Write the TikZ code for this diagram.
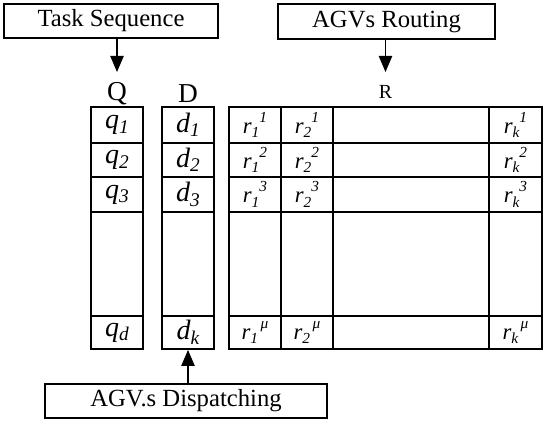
\documentclass[tikz,border=0pt]{standalone}
\usepackage{fontspec}
\setmainfont{Liberation Serif}
\usetikzlibrary{arrows.meta}
\newcommand{\qv}[2]{{\fontsize{21}{21}\selectfont\itshape #1\raisebox{-0.35ex}{\fontsize{14.5}{14.5}\selectfont #2}}}
\newcommand{\rv}[2]{{\fontsize{17}{17}\selectfont\itshape r\raisebox{-0.45ex}{\fontsize{11.5}{11.5}\selectfont #1}\raisebox{1.05ex}{\fontsize{11.5}{11.5}\selectfont #2}}}
\newcommand{\cellat}[6]{\node[cell, minimum width={(#4-#2)*0.75pt}, minimum height={(#5-#3)*0.75pt}] (#1) at ({(#2+#4)/2},{(#3+#5)/2}) {#6};}
\begin{document}
\begin{tikzpicture}[x=0.75pt,y=-0.75pt,
  lbox/.style={draw, line width=1.35pt, inner sep=0pt, font=\fontsize{18.5}{18.5}\selectfont},
  cell/.style={draw, line width=1.4pt, inner sep=0pt},
  arr/.style={-{Triangle[length=12pt,width=10pt]}, line width=1pt}]
\useasboundingbox (0,0) rectangle (546,424);
% top boxes
\node[lbox, minimum width=160.5pt, minimum height=25.5pt] (ts) at (111,21) {Task Sequence};
\node[lbox, minimum width=162.75pt, minimum height=26.25pt] (ar) at (386.5,21.5) {AGVs Routing};
\node[lbox, minimum width=211.5pt, minimum height=25.5pt] (ad) at (186,401) {AGV.s Dispatching};
% labels
\node[font=\fontsize{20.5}{20.5}\selectfont, inner sep=0pt] (Ql) at (117,93.5) {Q};
\node[font=\fontsize{20.5}{20.5}\selectfont, inner sep=0pt] (Dl) at (188,93.5) {D};
\node[font=\fontsize{15}{15}\selectfont, inner sep=0pt] (Rl) at (385.5,92) {R};
% Q column
\cellat{q1}{91}{107}{143}{143}{\qv{q}{1}}
\cellat{q2}{91}{143}{143}{177}{\qv{q}{2}}
\cellat{q3}{91}{177}{143}{212}{\qv{q}{3}}
\cellat{q4}{91}{212}{143}{316}{}
\cellat{q5}{91}{316}{143}{349}{\qv{q}{d}}
% D column
\cellat{d1}{162}{107}{214}{143}{\qv{d}{1}}
\cellat{d2}{162}{143}{214}{177}{\qv{d}{2}}
\cellat{d3}{162}{177}{214}{212}{\qv{d}{3}}
\cellat{d4}{162}{212}{214}{316}{}
\cellat{d5}{162}{316}{214}{349}{\qv{d}{k}}
% R table
\cellat{ra1}{229}{107}{281}{143}{\rv{1}{1}}
\cellat{rb1}{281}{107}{333}{143}{\rv{2}{1}}
\cellat{rc1}{333}{107}{489}{143}{}
\cellat{rd1}{489}{107}{542}{143}{\rv{k}{1}}
\cellat{ra2}{229}{143}{281}{177}{\rv{1}{2}}
\cellat{rb2}{281}{143}{333}{177}{\rv{2}{2}}
\cellat{rc2}{333}{143}{489}{177}{}
\cellat{rd2}{489}{143}{542}{177}{\rv{k}{2}}
\cellat{ra3}{229}{177}{281}{212}{\rv{1}{3}}
\cellat{rb3}{281}{177}{333}{212}{\rv{2}{3}}
\cellat{rc3}{333}{177}{489}{212}{}
\cellat{rd3}{489}{177}{542}{212}{\rv{k}{3}}
\cellat{ra4}{229}{212}{281}{316}{}
\cellat{rb4}{281}{212}{333}{316}{}
\cellat{rc4}{333}{212}{489}{316}{}
\cellat{rd4}{489}{212}{542}{316}{}
\cellat{ra5}{229}{316}{281}{349}{\rv{1}{\,μ}}
\cellat{rb5}{281}{316}{333}{349}{\rv{2}{\,μ}}
\cellat{rc5}{333}{316}{489}{349}{}
\cellat{rd5}{489}{316}{542}{349}{\rv{k}{\,μ}}
% arrows
\coordinate (qa) at (117,72);
\coordinate (ra) at (385.5,72);
\draw[arr] (ts.south -| qa) -- (qa);
\draw[arr] (ar.south -| ra) -- (ra);
\draw[arr] (ad.north -| d5.south) -- (d5.south);
\end{tikzpicture}
\end{document}
